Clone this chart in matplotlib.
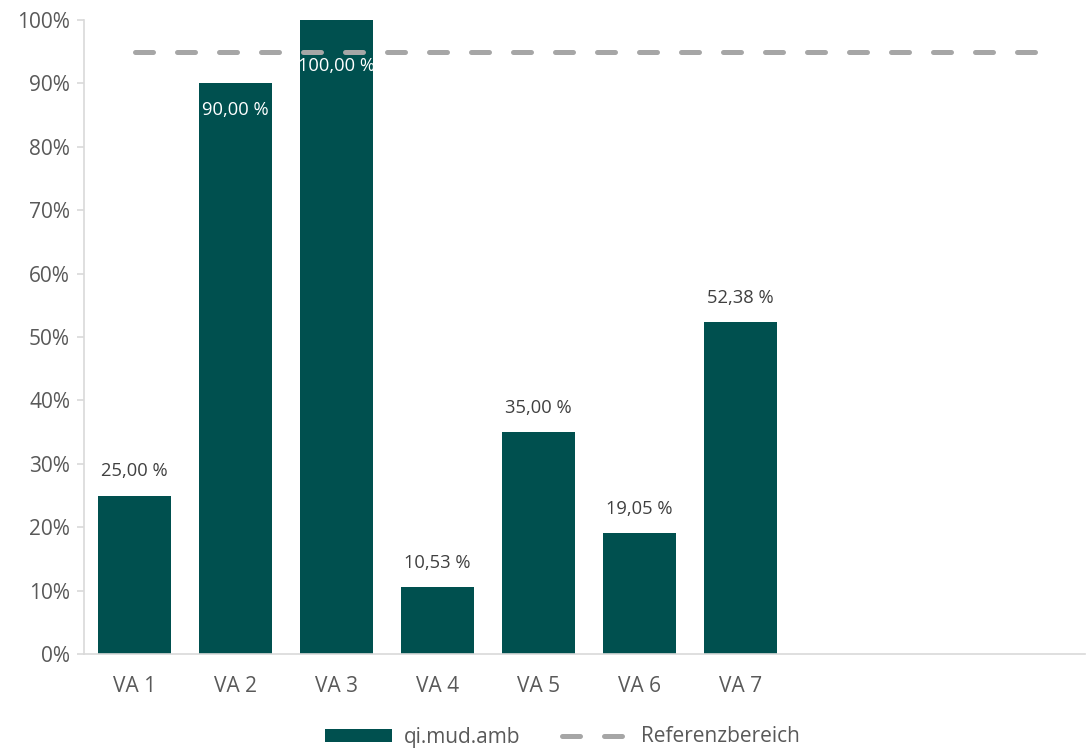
import matplotlib.pyplot as plt
from matplotlib.lines import Line2D
from matplotlib.patches import Patch

plt.rcParams['font.family'] = ['Open Sans', 'DejaVu Sans']

# data
categories = ["VA 1", "VA 2", "VA 3", "VA 4", "VA 5", "VA 6", "VA 7", "", "", ""]
values = [25.00, 90.00, 100.00, 10.53, 35.00, 19.05, 52.38]
inside = [False, True, True, False, False, False, False]
ref_value = 95

bar_color = "#00504F"
ref_color = "#A6A6A6"
text_color = "#595959"
label_color = "#404040"

fig = plt.figure(figsize=(10.86, 7.49), dpi=100)
ax = fig.add_axes([84 / 1086, 95 / 749, 1001 / 1086, 634 / 749])

n = len(categories)
x = list(range(n))
ax.bar(x[:len(values)], values, width=0.72, color=bar_color, zorder=2)

dash = (0, (3.6, 4.8))
ax.plot([x[0], x[-1]], [ref_value, ref_value], color=ref_color, lw=3.6,
        linestyle=dash, dash_capstyle='round', zorder=3)

for i, v in enumerate(values):
    lab = f"{v:.2f} %".replace(".", ",")
    if inside[i]:
        off = -33 if v >= 100 else -19
        ax.annotate(lab, (x[i], v), xytext=(0, off), textcoords='offset points',
                    ha='center', va='center', color='white', fontsize=13.2, zorder=4)
    else:
        ax.annotate(lab, (x[i], v), xytext=(0, 17.5), textcoords='offset points',
                    ha='center', va='center', color=label_color, fontsize=13.2, zorder=4)

ax.set_xlim(-0.5, -0.5 + 1001 / 101)
ax.set_ylim(0, 100)
ax.set_yticks(range(0, 101, 10))
ax.set_yticklabels([f"{t}%" for t in range(0, 101, 10)])
ax.set_xticks(x)
ax.set_xticklabels(categories)

for s in ["top", "right"]:
    ax.spines[s].set_visible(False)
ax.spines["left"].set_color("#D9D9D9")
ax.spines["bottom"].set_color("#D9D9D9")
ax.spines["left"].set_linewidth(1.2)
ax.spines["bottom"].set_linewidth(1.2)
ax.tick_params(axis='y', colors="#D9D9D9", labelcolor=text_color, labelsize=15,
               length=5, width=1.2, pad=5)
ax.tick_params(axis='x', length=0, labelcolor=text_color, labelsize=15, pad=16)

handles = [Patch(facecolor=bar_color, label="qi.mud.amb"),
           Line2D([0], [0], color=ref_color, lw=3.6, linestyle=dash,
                  dash_capstyle='round', label="Referenzbereich")]
leg = fig.legend(handles=handles, loc='center', bbox_to_anchor=(0.518, 12 / 749),
                 ncol=2, frameon=False, fontsize=15, handlelength=3.2,
                 handleheight=0.6, columnspacing=2.0, handletextpad=0.6)
for t in leg.get_texts():
    t.set_color(text_color)

fig.savefig("out.png", dpi=100)
